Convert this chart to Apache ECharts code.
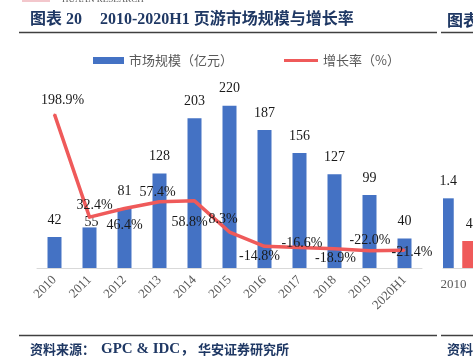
<!DOCTYPE html>
<html>
<head>
<meta charset="utf-8">
<script src="https://cdn.jsdelivr.net/npm/echarts@6/dist/echarts.min.js"></script>
<style>
html,body{margin:0;padding:0;background:#fff;}
#c{width:473px;height:362px;}
</style>
</head>
<body>
<div id="c"></div>
<script>
// ---- data ----
var categories = ['2010','2011','2012','2013','2014','2015','2016','2017','2018','2019','2020H1'];
var marketSize = [42, 55, 81, 128, 203, 220, 187, 156, 127, 99, 40];
var growthRate = [198.9, 32.4, 46.4, 57.4, 58.8, 8.3, -14.8, -16.6, -18.9, -22.0, -21.4];
var rightCategories = ['2010'];
var rightBlue = [1.4];
var rightRed = [43.8];

// ---- label placement (style, not data) ----
var growthLabelOffsets = [[8,-14],[5,-12],[0,16.5],[-2,-9],[-5,21],[-6.5,-12.5],[-5,10],[2.5,-4],[1,10],[0.5,-10.5],[7.5,2]];
var barLabelOffsets = {1: [2, 11.5]};

var serif = '"Liberation Serif","Times New Roman",serif';
var cjk = '"Noto Sans CJK SC",sans-serif';
var navy = '#1F3864';
var blue = '#4472C4';
var red = '#EF5A5A';

var chart = echarts.init(document.getElementById('c'), null, {renderer:'canvas'});

var barData = marketSize.map(function(v, i){
  var d = {value: v};
  if (barLabelOffsets[i]) d.label = {offset: barLabelOffsets[i]};
  return d;
});
var lineData = growthRate.map(function(v, i){
  return {value: v, label: {position: 'inside', offset: growthLabelOffsets[i]}};
});

var labelText = {fontFamily: serif, fontSize: 14, color: '#1a1a1a'};

chart.setOption({
  animation: false,
  backgroundColor: '#fff',
  grid: [
    {left: 37, top: 52, width: 385, height: 216},
    {left: 443, top: 52, width: 39.3, height: 216}
  ],
  legend: [
    {left: 88, top: 49, itemWidth: 31, itemHeight: 7, selectedMode: false,
     data: [{name: '市场规模（亿元）', icon: 'rect'}],
     textStyle: {color: '#595959', fontSize: 13, fontFamily: cjk}},
    {left: 279, top: 49, itemWidth: 34, itemHeight: 3, selectedMode: false,
     data: [{name: '增长率（%）', icon: 'rect'}],
     textStyle: {color: '#595959', fontSize: 13, fontFamily: cjk}}
  ],
  xAxis: [
    {type: 'category', gridIndex: 0, data: categories,
     axisLine: {lineStyle: {color: '#D9D9D9', width: 1}}, axisTick: {show: false},
     axisLabel: {rotate: 45, margin: 10, interval: 0, color: '#595959', fontFamily: serif, fontSize: 13}},
    {type: 'category', gridIndex: 1, data: rightCategories,
     axisLine: {lineStyle: {color: '#D9D9D9', width: 1}}, axisTick: {show: false},
     axisLabel: {margin: 10, color: '#595959', fontFamily: serif, fontSize: 13, padding: [0, 9, 0, 0]}}
  ],
  yAxis: [
    {type: 'value', gridIndex: 0, min: 0, max: 292.8, show: false},
    {type: 'value', gridIndex: 0, min: -50, max: 300, show: false},
    {type: 'value', gridIndex: 1, min: 0, max: 4.34, show: false},
    {type: 'value', gridIndex: 1, min: 0, max: 350, show: false}
  ],
  series: [
    {name: '市场规模（亿元）', type: 'bar', xAxisIndex: 0, yAxisIndex: 0, barWidth: 14,
     itemStyle: {color: blue}, data: barData, z: 2,
     label: Object.assign({show: true, position: 'top', distance: 10}, labelText)},
    {name: '增长率（%）', type: 'line', xAxisIndex: 0, yAxisIndex: 1, data: lineData,
     symbol: 'circle', symbolSize: 2, itemStyle: {color: red},
     lineStyle: {color: red, width: 3.5, join: 'round'}, z: 3,
     label: Object.assign({show: true, formatter: function(p){ return p.value.toFixed(1) + '%'; }}, labelText)},
    {name: 'rb', type: 'bar', xAxisIndex: 1, yAxisIndex: 2, barWidth: 11.5, barGap: '74%',
     itemStyle: {color: blue}, data: rightBlue,
     label: Object.assign({show: true, position: 'top', distance: 10}, labelText)},
    {name: 'rr', type: 'bar', xAxisIndex: 1, yAxisIndex: 3, barWidth: 11.5, barGap: '74%',
     itemStyle: {color: red}, data: rightRed,
     label: Object.assign({show: true, position: 'top', distance: 10, align: 'left', offset: [-2, 0],
       formatter: function(p){ return p.value.toFixed(1) + '%'; }}, labelText)}
  ],
  graphic: [
    {type: 'rect', shape: {x: 22, y: 0, width: 28, height: 2}, style: {fill: '#F3C7CC'}},
    {type: 'text', x: 62, y: -5, style: {text: 'HUAAN RESEARCH', font: '9px ' + serif, fill: '#555', verticalAlign: 'top'}},
    {type: 'text', x: 30, y: 20, style: {text: '图表 20', font: 'bold 16px ' + serif + ',' + cjk, fill: navy, verticalAlign: 'middle'}},
    {type: 'text', x: 100, y: 20, style: {text: '2010-2020H1 页游市场规模与增长率', font: 'bold 16px ' + serif + ',' + cjk, fill: navy, verticalAlign: 'middle'}},
    {type: 'text', x: 447, y: 20, style: {text: '图表', font: 'bold 16px ' + cjk, fill: navy, verticalAlign: 'middle'}},
    {type: 'line', shape: {x1: 19, y1: 32.5, x2: 437, y2: 32.5}, style: {stroke: '#404040', lineWidth: 1.5}},
    {type: 'line', shape: {x1: 441, y1: 32.5, x2: 473, y2: 32.5}, style: {stroke: '#404040', lineWidth: 1.5}},
    {type: 'line', shape: {x1: 19, y1: 335.5, x2: 437, y2: 335.5}, style: {stroke: '#404040', lineWidth: 1.5}},
    {type: 'line', shape: {x1: 441, y1: 335.5, x2: 473, y2: 335.5}, style: {stroke: '#404040', lineWidth: 1.5}},
    {type: 'text', x: 30, y: 349, style: {text: '资料来源：', font: 'bold 13px ' + cjk, fill: navy, verticalAlign: 'middle'}},
    {type: 'text', x: 101, y: 349, style: {text: 'GPC & IDC，', font: 'bold 15px ' + serif + ',' + cjk, fill: navy, verticalAlign: 'middle'}},
    {type: 'text', x: 198, y: 349, style: {text: '华安证券研究所', font: 'bold 13px ' + cjk, fill: navy, verticalAlign: 'middle'}},
    {type: 'text', x: 447, y: 349, style: {text: '资料', font: 'bold 13px ' + cjk, fill: navy, verticalAlign: 'middle'}}
  ]
});
</script>
</body>
</html>
